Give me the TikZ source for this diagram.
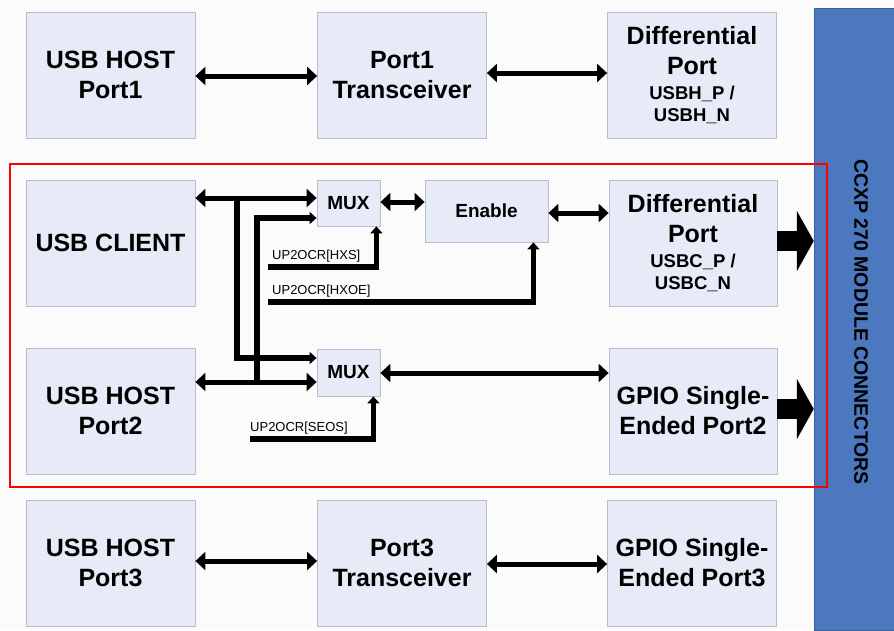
\documentclass[tikz,border=0pt]{standalone}
\usepackage{fontspec}
\setmainfont{Liberation Sans}
\usetikzlibrary{arrows.meta}
\definecolor{boxfill}{HTML}{E7EBF7}
\definecolor{boxline}{HTML}{B9BDC7}
\definecolor{barblue}{HTML}{4C78C0}
\definecolor{bg}{HTML}{FBFBFC}
\newcommand{\sml}{\fontsize{18.5}{22}\selectfont}
\begin{document}
\begin{tikzpicture}[x=1pt,y=-1pt,
  blk/.style={draw=boxline,fill=boxfill,line width=0.8pt,inner sep=0pt,align=center,
    minimum width=169pt,minimum height=126pt,font=\bfseries\fontsize{25}{30}\selectfont},
  small/.style={draw=boxline,fill=boxfill,line width=0.8pt,inner sep=0pt,align=center,
    font=\bfseries\fontsize{19}{22}\selectfont},
  lbl/.style={font=\fontsize{13}{15}\selectfont,anchor=base west,inner sep=0pt},
  dbl/.style={line width=5pt,arrows={Triangle[length=10pt,width=18pt]-Triangle[length=10pt,width=18pt]}},
  sig/.style={line width=5.5pt,arrows={-Triangle[length=7pt,width=12pt]}},
  blockarr/.style={line width=20pt,arrows={-Triangle[length=17pt,width=60pt]}}]
\fill[bg] (0,0) rectangle (894,630);
\useasboundingbox (0,0) rectangle (894,630);
% connector bar
\node[fill=barblue,draw=barblue!80!black,line width=0.5pt,minimum width=80pt,minimum height=622pt,inner sep=0pt] (bar) at (854,319) {};
\node[rotate=-90,font=\bfseries\fontsize{19.5}{22}\selectfont,inner sep=0pt] (barlbl) at (861,322) {CCXP 270 MODULE CONNECTORS};
% top row
\node[blk] (h1) at (110.5,75) {USB HOST\\Port1};
\node[blk] (t1) at (402,75) {Port1\\Transceiver};
\node[blk] (d1) at (692,75) {Differential\\Port\\[-5pt]{\sml USBH\_P /}\\[-8pt]{\sml USBH\_N}};
% middle
\node[blk] (uc) at (110.5,243) {USB CLIENT};
\node[blk] (h2) at (110.5,411) {USB HOST\\Port2};
\node[small,minimum width=63pt,minimum height=46pt] (m1) at (348.5,203) {MUX};
\node[small,minimum width=123pt,minimum height=62pt] (en) at (486.5,211) {Enable};
\node[small,minimum width=63pt,minimum height=47pt] (m2) at (348.5,372.5) {MUX};
\node[blk,minimum width=168pt] (d2) at (693,243) {Differential\\Port\\[-5pt]{\sml USBC\_P /}\\[-8pt]{\sml USBC\_N}};
\node[blk,minimum width=168pt] (g2) at (693,411) {GPIO Single-\\Ended Port2};
% bottom row
\node[blk] (h3) at (110.5,563) {USB HOST\\Port3};
\node[blk] (t3) at (402,563) {Port3\\Transceiver};
\node[blk] (g3) at (692,563) {GPIO Single-\\Ended Port3};
% top/bottom connectors
\draw[dbl] (h1.east |- 0,76) -- (t1.west |- 0,76);
\draw[dbl] (t1.east |- 0,73) -- (d1.west |- 0,73);
\draw[dbl] (h3.east |- 0,561) -- (t3.west |- 0,561);
\draw[dbl] (t3.east |- 0,564) -- (g3.west |- 0,564);
% middle connectors
\coordinate (j1) at (237,198);
\coordinate (j2) at (257,382);
\draw[dbl] (uc.east |- j1) -- (m1.west |- j1);
\draw[dbl] (h2.east |- j2) -- (m2.west |- j2);
\draw[sig] (j1) -- (237,358) -- (m2.west |- 0,358);
\draw[sig] (j2) -- (257,218) -- (m1.west |- 0,218);
\draw[dbl] (m1.east |- 0,202) -- (en.west |- 0,202);
\draw[dbl] (en.east |- 0,213) -- (d2.west |- 0,213);
\draw[dbl] (m2.east |- 0,373) -- (g2.west |- 0,373);
% control signals
\coordinate (hxs) at (268,267);
\coordinate (hxoe) at (268,302);
\coordinate (seos) at (250,439);
\node[lbl] (lhxs) at (272,259) {UP2OCR[HXS]};
\node[lbl] (lhxoe) at (272,294) {UP2OCR[HXOE]};
\node[lbl] (lseos) at (250,431) {UP2OCR[SEOS]};
\draw[sig] (hxs) -| ([xshift=-4pt]m1.south east);
\draw[sig] (hxoe) -| ([xshift=-15pt]en.south east);
\draw[sig] (seos) -| ([xshift=-7pt]m2.south east);
% block arrows to connectors
\draw[blockarr] (d2.east |- 0,241) -- (bar.west |- 0,241);
\draw[blockarr] (g2.east |- 0,409) -- (bar.west |- 0,409);
% highlight frame
\draw[red,line width=2.6pt] (10,164) rectangle (827,487);
\end{tikzpicture}
\end{document}
